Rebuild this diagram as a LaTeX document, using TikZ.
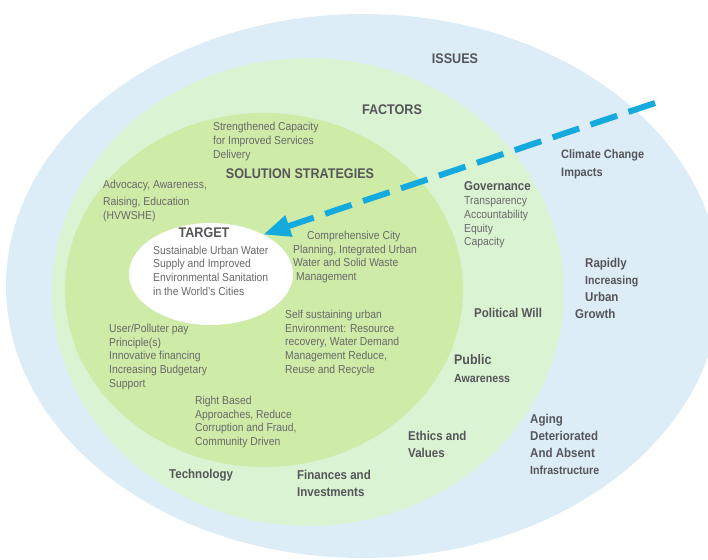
\documentclass[tikz,border=0pt]{standalone}
\usepackage{fontspec}
\setmainfont{Liberation Sans}[FakeStretch=0.9]
\usepackage{xcolor}
\usepackage{tikz}
\usetikzlibrary{arrows.meta, shapes.geometric}

\definecolor{issuesblue}{RGB}{221,237,248}
\definecolor{factorgreen}{RGB}{218,243,210}
\definecolor{stratgreen}{RGB}{206,235,168}
\definecolor{arrowblue}{RGB}{20,170,222}
\definecolor{lblgrey}{RGB}{85,85,90}
\definecolor{txtgrey}{RGB}{105,105,105}

\begin{document}
\begin{tikzpicture}[
      x=1pt, y=-1pt,
      txt/.style={anchor=west, align=left, inner sep=0pt, text=txtgrey,
        font=\fontsize{11.5}{13.7}\selectfont},
      lbl/.style={anchor=west, align=left, inner sep=0pt, text=lblgrey,
        font=\fontsize{12.8}{17}\selectfont\bfseries},
      head/.style={inner sep=0pt, text=lblgrey,
        font=\fontsize{14}{16}\selectfont\bfseries},
      arr/.style={-{Triangle[length=27pt, width=21pt]}, line width=6pt,
        dash pattern=on 28pt off 12pt, draw=arrowblue}
    ]
    \useasboundingbox (0,0) rectangle (708,559);
    \clip (0,0) rectangle (708,559);

    % rings
    \fill[issuesblue] (363,286) ellipse [x radius=357pt, y radius=272pt];
    \fill[factorgreen] (308,292) ellipse [x radius=256pt, y radius=234pt];
    \fill[stratgreen] (264,290) ellipse [x radius=199pt, y radius=177pt];
    \node[ellipse, fill=white, minimum width=164pt, minimum height=102pt,
      inner sep=0pt] (target) at (211,274) {};

    % headings
    \node[head] (issues) at (455,59) {ISSUES};
    \node[head] (factors) at (392,110) {FACTORS};
    \node[head] (strat) at (300,174) {SOLUTION STRATEGIES};
    \node[head] (targethead) at (204,233) {TARGET};

    % target
    \node[txt] (goal) at (153,270.5) {Sustainable Urban Water\\Supply and Improved\\
      Environmental Sanitation\\in the World's Cities};

    % solution strategies
    \node[txt] (capacity) at (213,141.5) {Strengthened Capacity\\for Improved Services\\Delivery};
    \node[txt] (advocacy) at (103,201) {Advocacy, Awareness,\\[3pt]Raising, Education\\(HVWSHE)};
    \node[txt] (planning) at (293,257) {\hspace*{14pt}Comprehensive City\\
      Planning, Integrated Urban\\Water and Solid Waste\\\hspace*{3pt}Management};
    \node[txt] (selfsust) at (285,343) {Self sustaining urban\\Environment: Resource\\
      recovery, Water Demand\\Management Reduce,\\Reuse and Recycle};
    \node[txt] (polluter) at (109,357) {User/Polluter pay\\Principle(s)\\
      Innovative financing\\Increasing Budgetary\\Support};
    \node[txt] (rights) at (195,422) {Right Based\\Approaches, Reduce\\
      Corruption and Fraud,\\Community Driven};

    % factors
    \node[lbl] (gov) at (464,186) {Governance};
    \node[txt] (govlist) at (464,222.5) {Transparency\\Accountability\\Equity\\Capacity};
    \node[lbl] (will) at (474,313) {Political Will};
    \node[lbl, font=\fontsize{13.8}{17}\selectfont\bfseries] (public) at (454,360) {Public};
    \node[lbl, font=\fontsize{11.8}{17}\selectfont\bfseries] (aware) at (454,378) {Awareness};
    \node[lbl] (ethics) at (408,444.5) {Ethics and\\Values};
    \node[lbl] (finance) at (297,483.5) {Finances and\\Investments};
    \node[lbl] (tech) at (169,475) {Technology};

    % issues
    \node[lbl, font=\fontsize{12.2}{18}\selectfont\bfseries] (climate) at (561,164) {Climate Change\\Impacts};
    \node[lbl] (growth) at (575,288.5) {\hspace*{10pt}Rapidly\\
      \hspace*{10pt}{\fontsize{11.8}{17}\selectfont Increasing}\\\hspace*{10pt}Urban\\Growth};
    \node[lbl] (aging) at (530,444) {Aging\\Deteriorated\\And Absent\\
      {\fontsize{11.8}{17}\selectfont Infrastructure}};

    % arrow into the target
    \coordinate (arrstart) at (655,103);
    \draw[arr] (arrstart) -- (target.37);
  \end{tikzpicture}
\end{document}
